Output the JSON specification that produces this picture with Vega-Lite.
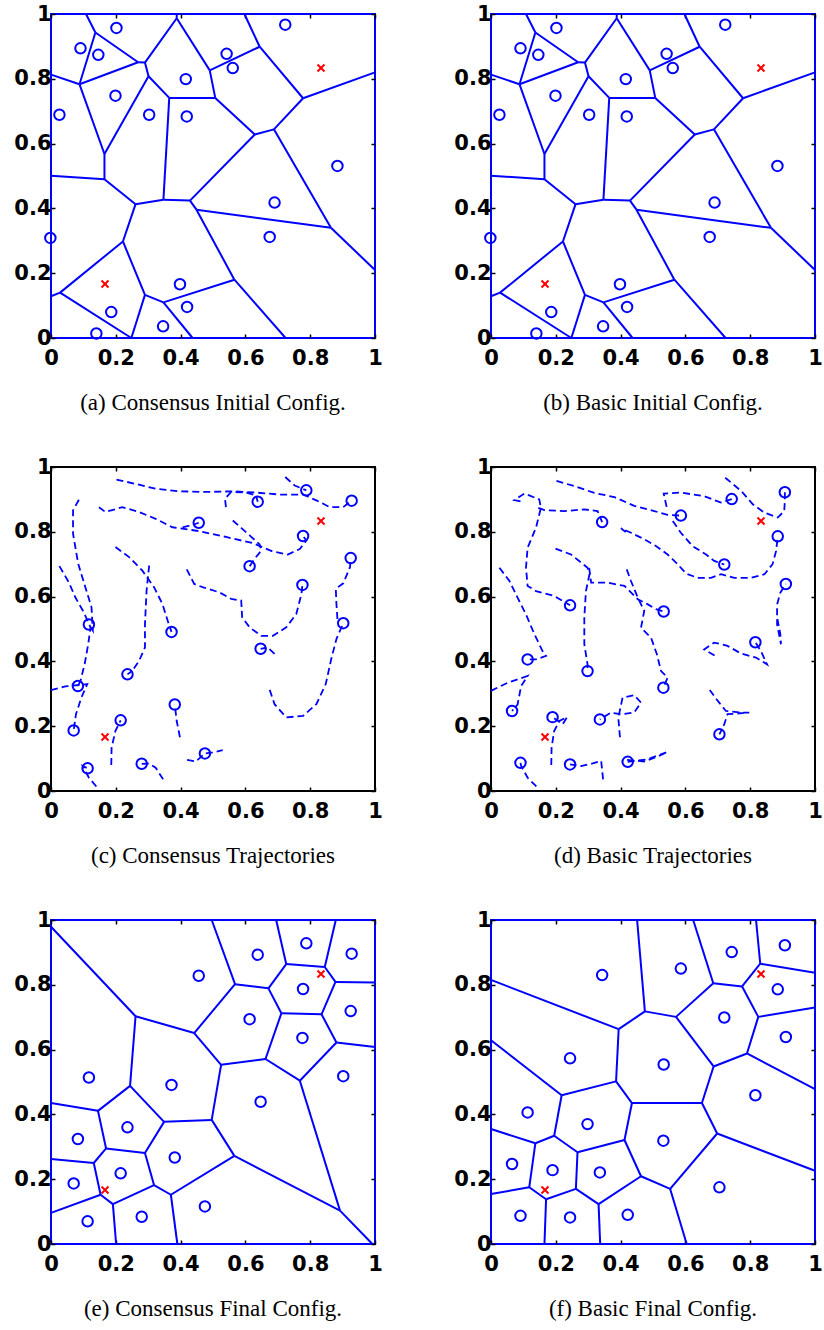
{
"$schema": "https://vega.github.io/schema/vega-lite/v6.json",
"background": "white",
"padding": {"left": 12, "top": 2, "right": 0, "bottom": 0},
"config": {
 "view": {"stroke": "black", "strokeWidth": 2},
 "axis": {"domain": false, "grid": false, "ticks": true, "tickSize": -4, "tickColor": "black", "tickWidth": 1.5, "labelFont": "DejaVu Sans", "labelFontWeight": "bold", "labelFontSize": 21, "labelColor": "black", "labelFlush": false, "labelOverlap": false, "labelBound": false},
 "axisX": {"labelPadding": 13},
 "axisY": {"labelPadding": 4},
 "title": {"font": "Liberation Serif", "fontSize": 23, "fontWeight": "normal", "color": "black", "orient": "bottom", "anchor": "middle", "offset": 24}
},
"datasets": {
 "targets": [{"x":0.1667,"y":0.1667},{"x":0.8333,"y":0.8333}],
 "ptsA": [{"x":0.202,"y":0.957},{"x":0.091,"y":0.894},{"x":0.146,"y":0.874},{"x":0.416,"y":0.799},{"x":0.199,"y":0.748},{"x":0.026,"y":0.689},{"x":0.303,"y":0.689},{"x":0.419,"y":0.684},{"x":0.542,"y":0.877},{"x":0.561,"y":0.833},{"x":0.723,"y":0.967},{"x":0.884,"y":0.531},{"x":0.690,"y":0.418},{"x":0.675,"y":0.312},{"x":-0.002,"y":0.309},{"x":0.398,"y":0.166},{"x":0.420,"y":0.096},{"x":0.186,"y":0.080},{"x":0.346,"y":0.036},{"x":0.140,"y":0.014}],
 "ptsE": [{"x":0.788,"y":0.928},{"x":0.928,"y":0.896},{"x":0.638,"y":0.893},{"x":0.456,"y":0.828},{"x":0.778,"y":0.787},{"x":0.613,"y":0.694},{"x":0.925,"y":0.719},{"x":0.776,"y":0.636},{"x":0.117,"y":0.514},{"x":0.372,"y":0.491},{"x":0.902,"y":0.518},{"x":0.647,"y":0.439},{"x":0.236,"y":0.360},{"x":0.083,"y":0.324},{"x":0.382,"y":0.267},{"x":0.215,"y":0.218},{"x":0.070,"y":0.187},{"x":0.475,"y":0.116},{"x":0.113,"y":0.070},{"x":0.280,"y":0.084}],
 "ptsF": [{"x":0.907,"y":0.922},{"x":0.743,"y":0.901},{"x":0.586,"y":0.850},{"x":0.343,"y":0.830},{"x":0.885,"y":0.786},{"x":0.720,"y":0.699},{"x":0.910,"y":0.639},{"x":0.533,"y":0.554},{"x":0.244,"y":0.573},{"x":0.816,"y":0.459},{"x":0.113,"y":0.406},{"x":0.298,"y":0.370},{"x":0.532,"y":0.319},{"x":0.065,"y":0.247},{"x":0.190,"y":0.228},{"x":0.336,"y":0.221},{"x":0.705,"y":0.175},{"x":0.091,"y":0.087},{"x":0.244,"y":0.082},{"x":0.422,"y":0.090}],
 "vorA": [
  {"x1":0.108,"y1":1,"x2":0.137,"y2":0.943},{"x1":0.137,"y1":0.943,"x2":0.088,"y2":0.783},{"x1":0.137,"y1":0.943,"x2":0.269,"y2":0.851},{"x1":0.269,"y1":0.851,"x2":0.290,"y2":0.850},
  {"x1":0.290,"y1":0.850,"x2":0.388,"y2":0.987},{"x1":0.388,"y1":0.987,"x2":0.388,"y2":1},{"x1":0.388,"y1":0.987,"x2":0.490,"y2":0.826},{"x1":0.490,"y1":0.826,"x2":0.644,"y2":0.899},
  {"x1":0.644,"y1":0.899,"x2":0.597,"y2":1},{"x1":0.644,"y1":0.899,"x2":0.778,"y2":0.740},{"x1":0.778,"y1":0.740,"x2":1,"y2":0.820},{"x1":0.778,"y1":0.740,"x2":0.688,"y2":0.644},
  {"x1":0.688,"y1":0.644,"x2":0.629,"y2":0.628},{"x1":0.688,"y1":0.644,"x2":0.864,"y2":0.340},{"x1":0.864,"y1":0.340,"x2":1,"y2":0.210},{"x1":0.864,"y1":0.340,"x2":0.449,"y2":0.396},
  {"x1":0.629,"y1":0.628,"x2":0.507,"y2":0.741},{"x1":0.507,"y1":0.741,"x2":0.490,"y2":0.826},{"x1":0.507,"y1":0.741,"x2":0.365,"y2":0.741},{"x1":0.365,"y1":0.741,"x2":0.301,"y2":0.808},
  {"x1":0.301,"y1":0.808,"x2":0.290,"y2":0.850},{"x1":0.301,"y1":0.808,"x2":0.165,"y2":0.568},{"x1":0.165,"y1":0.568,"x2":0.088,"y2":0.783},{"x1":0.088,"y1":0.783,"x2":0,"y2":0.813},
  {"x1":0.269,"y1":0.851,"x2":0.088,"y2":0.783},{"x1":0.165,"y1":0.568,"x2":0.165,"y2":0.490},{"x1":0.165,"y1":0.490,"x2":0,"y2":0.501},{"x1":0.165,"y1":0.490,"x2":0.261,"y2":0.413},
  {"x1":0.261,"y1":0.413,"x2":0.347,"y2":0.427},{"x1":0.347,"y1":0.427,"x2":0.365,"y2":0.741},{"x1":0.347,"y1":0.427,"x2":0.429,"y2":0.424},{"x1":0.429,"y1":0.424,"x2":0.629,"y2":0.628},
  {"x1":0.429,"y1":0.424,"x2":0.449,"y2":0.396},{"x1":0.449,"y1":0.396,"x2":0.566,"y2":0.180},{"x1":0.566,"y1":0.180,"x2":0.724,"y2":0},{"x1":0.566,"y1":0.180,"x2":0.347,"y2":0.110},
  {"x1":0.347,"y1":0.110,"x2":0.437,"y2":0},{"x1":0.347,"y1":0.110,"x2":0.290,"y2":0.133},{"x1":0.290,"y1":0.133,"x2":0.248,"y2":0},{"x1":0.290,"y1":0.133,"x2":0.222,"y2":0.298},
  {"x1":0.222,"y1":0.298,"x2":0.261,"y2":0.413},{"x1":0.222,"y1":0.298,"x2":0.028,"y2":0.140},{"x1":0.028,"y1":0.140,"x2":0,"y2":0.129},{"x1":0.028,"y1":0.140,"x2":0.248,"y2":0}
 ],
 "vorE": [
  {"x1":0,"y1":0.979,"x2":0.261,"y2":0.703},{"x1":0.261,"y1":0.703,"x2":0.442,"y2":0.651},{"x1":0.442,"y1":0.651,"x2":0.568,"y2":0.802},{"x1":0.568,"y1":0.802,"x2":0.496,"y2":1},
  {"x1":0.568,"y1":0.802,"x2":0.671,"y2":0.789},{"x1":0.671,"y1":0.789,"x2":0.726,"y2":0.864},{"x1":0.726,"y1":0.864,"x2":0.695,"y2":1},{"x1":0.726,"y1":0.864,"x2":0.845,"y2":0.855},
  {"x1":0.845,"y1":0.855,"x2":0.879,"y2":1},{"x1":0.845,"y1":0.855,"x2":0.878,"y2":0.809},{"x1":0.878,"y1":0.809,"x2":1,"y2":0.807},{"x1":0.878,"y1":0.809,"x2":0.835,"y2":0.709},
  {"x1":0.835,"y1":0.709,"x2":0.711,"y2":0.712},{"x1":0.711,"y1":0.712,"x2":0.671,"y2":0.789},{"x1":0.835,"y1":0.709,"x2":0.881,"y2":0.622},{"x1":0.881,"y1":0.622,"x2":1,"y2":0.608},
  {"x1":0.881,"y1":0.622,"x2":0.768,"y2":0.504},{"x1":0.768,"y1":0.504,"x2":0.662,"y2":0.571},{"x1":0.662,"y1":0.571,"x2":0.711,"y2":0.712},{"x1":0.662,"y1":0.571,"x2":0.525,"y2":0.553},
  {"x1":0.525,"y1":0.553,"x2":0.442,"y2":0.651},{"x1":0.525,"y1":0.553,"x2":0.496,"y2":0.383},{"x1":0.496,"y1":0.383,"x2":0.349,"y2":0.377},{"x1":0.349,"y1":0.377,"x2":0.244,"y2":0.488},
  {"x1":0.244,"y1":0.488,"x2":0.261,"y2":0.703},{"x1":0.244,"y1":0.488,"x2":0.145,"y2":0.411},{"x1":0.145,"y1":0.411,"x2":0,"y2":0.435},{"x1":0.145,"y1":0.411,"x2":0.170,"y2":0.295},
  {"x1":0.170,"y1":0.295,"x2":0.290,"y2":0.281},{"x1":0.290,"y1":0.281,"x2":0.349,"y2":0.377},{"x1":0.170,"y1":0.295,"x2":0.132,"y2":0.250},{"x1":0.132,"y1":0.250,"x2":0,"y2":0.262},
  {"x1":0.132,"y1":0.250,"x2":0.153,"y2":0.152},{"x1":0.153,"y1":0.152,"x2":0,"y2":0.096},{"x1":0.153,"y1":0.152,"x2":0.191,"y2":0.123},{"x1":0.191,"y1":0.123,"x2":0.201,"y2":0},
  {"x1":0.191,"y1":0.123,"x2":0.318,"y2":0.182},{"x1":0.318,"y1":0.182,"x2":0.290,"y2":0.281},{"x1":0.318,"y1":0.182,"x2":0.370,"y2":0.152},{"x1":0.370,"y1":0.152,"x2":0.390,"y2":0},
  {"x1":0.370,"y1":0.152,"x2":0.566,"y2":0.272},{"x1":0.566,"y1":0.272,"x2":0.496,"y2":0.383},{"x1":0.566,"y1":0.272,"x2":0.892,"y2":0.103},{"x1":0.892,"y1":0.103,"x2":0.768,"y2":0.504},
  {"x1":0.892,"y1":0.103,"x2":0.992,"y2":0}
 ],
 "vorF": [
  {"x1":0,"y1":0.815,"x2":0.394,"y2":0.663},{"x1":0.394,"y1":0.663,"x2":0.475,"y2":0.718},{"x1":0.475,"y1":0.718,"x2":0.451,"y2":1},{"x1":0.475,"y1":0.718,"x2":0.571,"y2":0.701},
  {"x1":0.571,"y1":0.701,"x2":0.686,"y2":0.805},{"x1":0.686,"y1":0.805,"x2":0.624,"y2":1},{"x1":0.686,"y1":0.805,"x2":0.775,"y2":0.795},{"x1":0.775,"y1":0.795,"x2":0.831,"y2":0.865},
  {"x1":0.831,"y1":0.865,"x2":0.818,"y2":1},{"x1":0.831,"y1":0.865,"x2":1,"y2":0.837},{"x1":0.775,"y1":0.795,"x2":0.825,"y2":0.701},{"x1":0.825,"y1":0.701,"x2":1,"y2":0.730},
  {"x1":0.825,"y1":0.701,"x2":0.790,"y2":0.588},{"x1":0.790,"y1":0.588,"x2":1,"y2":0.478},{"x1":0.790,"y1":0.588,"x2":0.687,"y2":0.548},{"x1":0.687,"y1":0.548,"x2":0.571,"y2":0.701},
  {"x1":0.687,"y1":0.548,"x2":0.651,"y2":0.435},{"x1":0.651,"y1":0.435,"x2":0.435,"y2":0.435},{"x1":0.435,"y1":0.435,"x2":0.386,"y2":0.502},{"x1":0.386,"y1":0.502,"x2":0.394,"y2":0.663},
  {"x1":0.386,"y1":0.502,"x2":0.218,"y2":0.459},{"x1":0.218,"y1":0.459,"x2":0,"y2":0.629},{"x1":0.218,"y1":0.459,"x2":0.195,"y2":0.334},{"x1":0.195,"y1":0.334,"x2":0.137,"y2":0.311},
  {"x1":0.137,"y1":0.311,"x2":0,"y2":0.355},{"x1":0.137,"y1":0.311,"x2":0.118,"y2":0.175},{"x1":0.118,"y1":0.175,"x2":0,"y2":0.154},{"x1":0.118,"y1":0.175,"x2":0.170,"y2":0.138},
  {"x1":0.170,"y1":0.138,"x2":0.165,"y2":0},{"x1":0.170,"y1":0.138,"x2":0.262,"y2":0.170},{"x1":0.262,"y1":0.170,"x2":0.267,"y2":0.283},{"x1":0.267,"y1":0.283,"x2":0.195,"y2":0.334},
  {"x1":0.267,"y1":0.283,"x2":0.412,"y2":0.321},{"x1":0.412,"y1":0.321,"x2":0.435,"y2":0.435},{"x1":0.412,"y1":0.321,"x2":0.463,"y2":0.209},{"x1":0.463,"y1":0.209,"x2":0.332,"y2":0.123},
  {"x1":0.332,"y1":0.123,"x2":0.262,"y2":0.170},{"x1":0.332,"y1":0.123,"x2":0.337,"y2":0},{"x1":0.463,"y1":0.209,"x2":0.553,"y2":0.170},{"x1":0.553,"y1":0.170,"x2":0.604,"y2":0},
  {"x1":0.553,"y1":0.170,"x2":0.698,"y2":0.341},{"x1":0.698,"y1":0.341,"x2":0.651,"y2":0.435},{"x1":0.698,"y1":0.341,"x2":1,"y2":0.226}
 ],
 "trajC": [
  {"a":1,"o":1,"x":0.202,"y":0.961},{"a":1,"o":2,"x":0.261,"y":0.948},{"a":1,"o":3,"x":0.323,"y":0.933},{"a":1,"o":4,"x":0.396,"y":0.925},{"a":1,"o":5,"x":0.478,"y":0.923},{"a":1,"o":6,"x":0.561,"y":0.925},{"a":1,"o":7,"x":0.633,"y":0.921},{"a":1,"o":8,"x":0.706,"y":0.915},{"a":1,"o":9,"x":0.778,"y":0.915},{"a":1,"o":10,"x":0.819,"y":0.897},{"a":1,"o":11,"x":0.861,"y":0.876},{"a":1,"o":12,"x":0.902,"y":0.876},{"a":1,"o":13,"x":0.928,"y":0.897},
  {"a":11,"o":1,"x":0.723,"y":0.969},{"a":11,"o":2,"x":0.752,"y":0.943},{"a":11,"o":3,"x":0.788,"y":0.928},
  {"a":9,"o":1,"x":0.540,"y":0.876},{"a":9,"o":2,"x":0.537,"y":0.902},{"a":9,"o":3,"x":0.556,"y":0.923},{"a":9,"o":4,"x":0.602,"y":0.921},{"a":9,"o":5,"x":0.633,"y":0.912},{"a":9,"o":6,"x":0.638,"y":0.893},
  {"a":10,"o":1,"x":0.561,"y":0.835},{"a":10,"o":2,"x":0.587,"y":0.812},{"a":10,"o":3,"x":0.613,"y":0.789},{"a":10,"o":4,"x":0.644,"y":0.761},{"a":10,"o":5,"x":0.649,"y":0.742},{"a":10,"o":6,"x":0.628,"y":0.716},{"a":10,"o":7,"x":0.613,"y":0.694},
  {"a":3,"o":1,"x":0.148,"y":0.876},{"a":3,"o":2,"x":0.168,"y":0.861},{"a":3,"o":3,"x":0.220,"y":0.876},{"a":3,"o":4,"x":0.272,"y":0.861},{"a":3,"o":5,"x":0.323,"y":0.840},{"a":3,"o":6,"x":0.375,"y":0.814},{"a":3,"o":7,"x":0.458,"y":0.802},{"a":3,"o":8,"x":0.540,"y":0.784},{"a":3,"o":9,"x":0.623,"y":0.765},{"a":3,"o":10,"x":0.685,"y":0.739},{"a":3,"o":11,"x":0.731,"y":0.730},{"a":3,"o":12,"x":0.768,"y":0.747},{"a":3,"o":13,"x":0.788,"y":0.773},{"a":3,"o":14,"x":0.778,"y":0.787},
  {"a":4,"o":1,"x":0.406,"y":0.814},{"a":4,"o":2,"x":0.437,"y":0.821},{"a":4,"o":3,"x":0.456,"y":0.828},
  {"a":2,"o":1,"x":0.086,"y":0.899},{"a":2,"o":2,"x":0.068,"y":0.866},{"a":2,"o":3,"x":0.068,"y":0.794},{"a":2,"o":4,"x":0.084,"y":0.701},{"a":2,"o":5,"x":0.106,"y":0.629},{"a":2,"o":6,"x":0.125,"y":0.567},{"a":2,"o":7,"x":0.129,"y":0.495},{"a":2,"o":8,"x":0.117,"y":0.514},
  {"a":6,"o":1,"x":0.026,"y":0.694},{"a":6,"o":2,"x":0.055,"y":0.644},{"a":6,"o":3,"x":0.075,"y":0.598},{"a":6,"o":4,"x":0.101,"y":0.552},{"a":6,"o":5,"x":0.122,"y":0.505},{"a":6,"o":6,"x":0.115,"y":0.454},{"a":6,"o":7,"x":0.104,"y":0.392},{"a":6,"o":8,"x":0.091,"y":0.340},{"a":6,"o":9,"x":0.083,"y":0.324},
  {"a":15,"o":1,"x":0,"y":0.311},{"a":15,"o":2,"x":0.044,"y":0.323},{"a":15,"o":3,"x":0.096,"y":0.328},{"a":15,"o":4,"x":0.112,"y":0.330},{"a":15,"o":5,"x":0.094,"y":0.289},{"a":15,"o":6,"x":0.077,"y":0.237},{"a":15,"o":7,"x":0.070,"y":0.187},
  {"a":5,"o":1,"x":0.199,"y":0.753},{"a":5,"o":2,"x":0.241,"y":0.722},{"a":5,"o":3,"x":0.282,"y":0.680},{"a":5,"o":4,"x":0.318,"y":0.629},{"a":5,"o":5,"x":0.344,"y":0.577},{"a":5,"o":6,"x":0.360,"y":0.526},{"a":5,"o":7,"x":0.372,"y":0.491},
  {"a":7,"o":1,"x":0.303,"y":0.696},{"a":7,"o":2,"x":0.295,"y":0.619},{"a":7,"o":3,"x":0.290,"y":0.515},{"a":7,"o":4,"x":0.290,"y":0.443},{"a":7,"o":5,"x":0.272,"y":0.402},{"a":7,"o":6,"x":0.251,"y":0.371},{"a":7,"o":7,"x":0.236,"y":0.360},
  {"a":8,"o":1,"x":0.419,"y":0.684},{"a":8,"o":2,"x":0.442,"y":0.639},{"a":8,"o":3,"x":0.468,"y":0.629},{"a":8,"o":4,"x":0.520,"y":0.613},{"a":8,"o":5,"x":0.556,"y":0.593},{"a":8,"o":6,"x":0.587,"y":0.588},{"a":8,"o":7,"x":0.590,"y":0.536},{"a":8,"o":8,"x":0.613,"y":0.505},{"a":8,"o":9,"x":0.649,"y":0.479},{"a":8,"o":10,"x":0.685,"y":0.479},{"a":8,"o":11,"x":0.726,"y":0.505},{"a":8,"o":12,"x":0.757,"y":0.546},{"a":8,"o":13,"x":0.773,"y":0.608},{"a":8,"o":14,"x":0.776,"y":0.636},
  {"a":12,"o":1,"x":0.884,"y":0.531},{"a":12,"o":2,"x":0.881,"y":0.577},{"a":12,"o":3,"x":0.879,"y":0.624},{"a":12,"o":4,"x":0.902,"y":0.641},{"a":12,"o":5,"x":0.923,"y":0.691},{"a":12,"o":6,"x":0.925,"y":0.719},
  {"a":14,"o":1,"x":0.675,"y":0.312},{"a":14,"o":2,"x":0.690,"y":0.268},{"a":14,"o":3,"x":0.726,"y":0.227},{"a":14,"o":4,"x":0.778,"y":0.232},{"a":14,"o":5,"x":0.819,"y":0.268},{"a":14,"o":6,"x":0.848,"y":0.330},{"a":14,"o":7,"x":0.866,"y":0.412},{"a":14,"o":8,"x":0.881,"y":0.469},{"a":14,"o":9,"x":0.902,"y":0.518},
  {"a":13,"o":1,"x":0.690,"y":0.423},{"a":13,"o":2,"x":0.669,"y":0.443},{"a":13,"o":3,"x":0.647,"y":0.439},
  {"a":16,"o":1,"x":0.398,"y":0.166},{"a":16,"o":2,"x":0.388,"y":0.216},{"a":16,"o":3,"x":0.382,"y":0.267},
  {"a":17,"o":1,"x":0.420,"y":0.096},{"a":17,"o":2,"x":0.447,"y":0.091},{"a":17,"o":3,"x":0.475,"y":0.116},{"a":17,"o":4,"x":0.499,"y":0.119},{"a":17,"o":5,"x":0.530,"y":0.126},
  {"a":18,"o":1,"x":0.186,"y":0.080},{"a":18,"o":2,"x":0.187,"y":0.134},{"a":18,"o":3,"x":0.199,"y":0.186},{"a":18,"o":4,"x":0.215,"y":0.218},
  {"a":19,"o":1,"x":0.346,"y":0.036},{"a":19,"o":2,"x":0.323,"y":0.072},{"a":19,"o":3,"x":0.303,"y":0.085},{"a":19,"o":4,"x":0.280,"y":0.084},
  {"a":20,"o":1,"x":0.140,"y":0.014},{"a":20,"o":2,"x":0.117,"y":0.041},{"a":20,"o":3,"x":0.098,"y":0.077},{"a":20,"o":4,"x":0.113,"y":0.070}
 ],
 "trajD": [
  {"a":1,"o":1,"x":0.202,"y":0.957},{"a":1,"o":2,"x":0.257,"y":0.941},{"a":1,"o":3,"x":0.319,"y":0.920},{"a":1,"o":4,"x":0.381,"y":0.907},{"a":1,"o":5,"x":0.442,"y":0.880},{"a":1,"o":6,"x":0.504,"y":0.864},{"a":1,"o":7,"x":0.545,"y":0.852},{"a":1,"o":8,"x":0.586,"y":0.850},
  {"a":11,"o":1,"x":0.723,"y":0.967},{"a":11,"o":2,"x":0.772,"y":0.926},{"a":11,"o":3,"x":0.808,"y":0.885},{"a":11,"o":4,"x":0.844,"y":0.859},{"a":11,"o":5,"x":0.885,"y":0.844},{"a":11,"o":6,"x":0.905,"y":0.864},{"a":11,"o":7,"x":0.907,"y":0.895},{"a":11,"o":8,"x":0.907,"y":0.922},
  {"a":9,"o":1,"x":0.542,"y":0.877},{"a":9,"o":2,"x":0.533,"y":0.918},{"a":9,"o":3,"x":0.586,"y":0.921},{"a":9,"o":4,"x":0.658,"y":0.910},{"a":9,"o":5,"x":0.710,"y":0.890},{"a":9,"o":6,"x":0.743,"y":0.901},
  {"a":10,"o":1,"x":0.561,"y":0.833},{"a":10,"o":2,"x":0.586,"y":0.797},{"a":10,"o":3,"x":0.622,"y":0.756},{"a":10,"o":4,"x":0.664,"y":0.730},{"a":10,"o":5,"x":0.689,"y":0.710},{"a":10,"o":6,"x":0.720,"y":0.699},
  {"a":4,"o":1,"x":0.416,"y":0.799},{"a":4,"o":2,"x":0.401,"y":0.811},{"a":4,"o":3,"x":0.432,"y":0.797},{"a":4,"o":4,"x":0.473,"y":0.777},{"a":4,"o":5,"x":0.509,"y":0.756},{"a":4,"o":6,"x":0.545,"y":0.730},{"a":4,"o":7,"x":0.576,"y":0.700},{"a":4,"o":8,"x":0.602,"y":0.671},{"a":4,"o":9,"x":0.638,"y":0.658},{"a":4,"o":10,"x":0.679,"y":0.658},{"a":4,"o":11,"x":0.710,"y":0.669},{"a":4,"o":12,"x":0.751,"y":0.658},{"a":4,"o":13,"x":0.802,"y":0.658},{"a":4,"o":14,"x":0.844,"y":0.669},{"a":4,"o":15,"x":0.869,"y":0.700},{"a":4,"o":16,"x":0.880,"y":0.741},{"a":4,"o":17,"x":0.885,"y":0.786},
  {"a":2,"o":1,"x":0.091,"y":0.894},{"a":2,"o":2,"x":0.072,"y":0.898},{"a":2,"o":3,"x":0.103,"y":0.918},{"a":2,"o":4,"x":0.149,"y":0.900},{"a":2,"o":5,"x":0.154,"y":0.874},{"a":2,"o":6,"x":0.139,"y":0.813},{"a":2,"o":7,"x":0.113,"y":0.751},{"a":2,"o":8,"x":0.108,"y":0.689},{"a":2,"o":9,"x":0.113,"y":0.633},{"a":2,"o":10,"x":0.139,"y":0.617},{"a":2,"o":11,"x":0.195,"y":0.602},{"a":2,"o":12,"x":0.244,"y":0.573},
  {"a":3,"o":1,"x":0.146,"y":0.874},{"a":3,"o":2,"x":0.165,"y":0.867},{"a":3,"o":3,"x":0.226,"y":0.864},{"a":3,"o":4,"x":0.288,"y":0.869},{"a":3,"o":5,"x":0.329,"y":0.864},{"a":3,"o":6,"x":0.343,"y":0.830},
  {"a":6,"o":1,"x":0.026,"y":0.689},{"a":6,"o":2,"x":0.057,"y":0.648},{"a":6,"o":3,"x":0.082,"y":0.597},{"a":6,"o":4,"x":0.108,"y":0.545},{"a":6,"o":5,"x":0.134,"y":0.484},{"a":6,"o":6,"x":0.159,"y":0.432},{"a":6,"o":7,"x":0.170,"y":0.417},{"a":6,"o":8,"x":0.139,"y":0.406},{"a":6,"o":9,"x":0.113,"y":0.406},
  {"a":15,"o":1,"x":0,"y":0.309},{"a":15,"o":2,"x":0.051,"y":0.334},{"a":15,"o":3,"x":0.113,"y":0.355},{"a":15,"o":4,"x":0.093,"y":0.324},{"a":15,"o":5,"x":0.082,"y":0.267},{"a":15,"o":6,"x":0.065,"y":0.247},
  {"a":5,"o":1,"x":0.199,"y":0.748},{"a":5,"o":2,"x":0.247,"y":0.730},{"a":5,"o":3,"x":0.298,"y":0.689},{"a":5,"o":4,"x":0.304,"y":0.669},{"a":5,"o":5,"x":0.293,"y":0.617},{"a":5,"o":6,"x":0.288,"y":0.535},{"a":5,"o":7,"x":0.288,"y":0.453},{"a":5,"o":8,"x":0.298,"y":0.391},{"a":5,"o":9,"x":0.298,"y":0.370},
  {"a":7,"o":1,"x":0.303,"y":0.689},{"a":7,"o":2,"x":0.309,"y":0.643},{"a":7,"o":3,"x":0.360,"y":0.643},{"a":7,"o":4,"x":0.412,"y":0.633},{"a":7,"o":5,"x":0.453,"y":0.592},{"a":7,"o":6,"x":0.484,"y":0.576},{"a":7,"o":7,"x":0.509,"y":0.561},{"a":7,"o":8,"x":0.533,"y":0.554},
  {"a":8,"o":1,"x":0.419,"y":0.684},{"a":8,"o":2,"x":0.432,"y":0.648},{"a":8,"o":3,"x":0.453,"y":0.597},{"a":8,"o":4,"x":0.473,"y":0.556},{"a":8,"o":5,"x":0.463,"y":0.504},{"a":8,"o":6,"x":0.494,"y":0.473},{"a":8,"o":7,"x":0.512,"y":0.422},{"a":8,"o":8,"x":0.525,"y":0.370},{"a":8,"o":9,"x":0.545,"y":0.350},{"a":8,"o":10,"x":0.532,"y":0.319},
  {"a":12,"o":1,"x":0.884,"y":0.531},{"a":12,"o":2,"x":0.893,"y":0.484},{"a":12,"o":3,"x":0.895,"y":0.453},{"a":12,"o":4,"x":0.883,"y":0.514},{"a":12,"o":5,"x":0.883,"y":0.576},{"a":12,"o":6,"x":0.893,"y":0.612},{"a":12,"o":7,"x":0.910,"y":0.639},
  {"a":13,"o":1,"x":0.690,"y":0.418},{"a":13,"o":2,"x":0.658,"y":0.437},{"a":13,"o":3,"x":0.689,"y":0.458},{"a":13,"o":4,"x":0.730,"y":0.448},{"a":13,"o":5,"x":0.772,"y":0.424},{"a":13,"o":6,"x":0.818,"y":0.412},{"a":13,"o":7,"x":0.852,"y":0.391},{"a":13,"o":8,"x":0.833,"y":0.432},{"a":13,"o":9,"x":0.816,"y":0.459},
  {"a":14,"o":1,"x":0.675,"y":0.312},{"a":14,"o":2,"x":0.700,"y":0.278},{"a":14,"o":3,"x":0.725,"y":0.247},{"a":14,"o":4,"x":0.772,"y":0.242},{"a":14,"o":5,"x":0.797,"y":0.242},{"a":14,"o":6,"x":0.730,"y":0.237},{"a":14,"o":7,"x":0.720,"y":0.206},{"a":14,"o":8,"x":0.705,"y":0.175},
  {"a":16,"o":1,"x":0.398,"y":0.166},{"a":16,"o":2,"x":0.393,"y":0.226},{"a":16,"o":3,"x":0.406,"y":0.288},{"a":16,"o":4,"x":0.442,"y":0.296},{"a":16,"o":5,"x":0.463,"y":0.273},{"a":16,"o":6,"x":0.442,"y":0.242},{"a":16,"o":7,"x":0.401,"y":0.237},{"a":16,"o":8,"x":0.370,"y":0.242},{"a":16,"o":9,"x":0.336,"y":0.221},
  {"a":17,"o":1,"x":0.420,"y":0.096},{"a":17,"o":2,"x":0.473,"y":0.091},{"a":17,"o":3,"x":0.514,"y":0.106},{"a":17,"o":4,"x":0.545,"y":0.121},{"a":17,"o":5,"x":0.484,"y":0.098},{"a":17,"o":6,"x":0.422,"y":0.090},
  {"a":18,"o":1,"x":0.186,"y":0.080},{"a":18,"o":2,"x":0.187,"y":0.134},{"a":18,"o":3,"x":0.195,"y":0.185},{"a":18,"o":4,"x":0.211,"y":0.216},{"a":18,"o":5,"x":0.235,"y":0.228},{"a":18,"o":6,"x":0.221,"y":0.206},{"a":18,"o":7,"x":0.190,"y":0.228},
  {"a":19,"o":1,"x":0.346,"y":0.036},{"a":19,"o":2,"x":0.340,"y":0.093},{"a":19,"o":3,"x":0.309,"y":0.084},{"a":19,"o":4,"x":0.278,"y":0.077},{"a":19,"o":5,"x":0.244,"y":0.082},
  {"a":20,"o":1,"x":0.140,"y":0.014},{"a":20,"o":2,"x":0.113,"y":0.041},{"a":20,"o":3,"x":0.093,"y":0.077},{"a":20,"o":4,"x":0.091,"y":0.087}
 ]
},
"columns": 2,
"spacing": {"row": 129, "column": 116},
"bounds": "flush",
"concat": [
  {"width": 324, "height": 324, "title": {"text": "(a) Consensus Initial Config."}, "view": {"stroke": "#0000ff", "strokeWidth": 2},
   "layer": [
    {"data": {"name": "vorA"}, "mark": {"type": "rule", "color": "#0000ff", "strokeWidth": 2},
     "encoding": {"x": {"field": "x1", "type": "quantitative", "scale": {"domain": [0, 1]}, "axis": {"orient": "bottom", "values": [0, 0.2, 0.4, 0.6, 0.8, 1], "format": "~g", "title": null}},
                  "y": {"field": "y1", "type": "quantitative", "scale": {"domain": [0, 1]}, "axis": {"orient": "left", "values": [0, 0.2, 0.4, 0.6, 0.8, 1], "format": "~g", "title": null}},
                  "x2": {"field": "x2"}, "y2": {"field": "y2"}}},
    {"data": {"name": "ptsA"}, "mark": {"type": "point", "shape": "circle", "filled": false, "color": "#0000ff", "size": 110, "strokeWidth": 2, "opacity": 1},
     "encoding": {"x": {"field": "x", "type": "quantitative", "scale": {"domain": [0, 1]}, "axis": {"orient": "top", "values": [0, 0.2, 0.4, 0.6, 0.8, 1], "labels": false, "title": null}},
                  "y": {"field": "y", "type": "quantitative", "scale": {"domain": [0, 1]}, "axis": {"orient": "right", "values": [0, 0.2, 0.4, 0.6, 0.8, 1], "labels": false, "title": null}}}},
    {"data": {"name": "targets"}, "mark": {"type": "point", "shape": "M-1,-1L1,1M1,-1L-1,1", "filled": false, "color": "#ff0000", "size": 49, "strokeWidth": 2, "opacity": 1},
     "encoding": {"x": {"field": "x", "type": "quantitative", "axis": null}, "y": {"field": "y", "type": "quantitative", "axis": null}}}
   ],
   "resolve": {"axis": {"x": "independent", "y": "independent"}}},
  {"width": 324, "height": 324, "title": {"text": "(b) Basic Initial Config."}, "view": {"stroke": "#0000ff", "strokeWidth": 2},
   "layer": [
    {"data": {"name": "vorA"}, "mark": {"type": "rule", "color": "#0000ff", "strokeWidth": 2},
     "encoding": {"x": {"field": "x1", "type": "quantitative", "scale": {"domain": [0, 1]}, "axis": {"orient": "bottom", "values": [0, 0.2, 0.4, 0.6, 0.8, 1], "format": "~g", "title": null}},
                  "y": {"field": "y1", "type": "quantitative", "scale": {"domain": [0, 1]}, "axis": {"orient": "left", "values": [0, 0.2, 0.4, 0.6, 0.8, 1], "format": "~g", "title": null}},
                  "x2": {"field": "x2"}, "y2": {"field": "y2"}}},
    {"data": {"name": "ptsA"}, "mark": {"type": "point", "shape": "circle", "filled": false, "color": "#0000ff", "size": 110, "strokeWidth": 2, "opacity": 1},
     "encoding": {"x": {"field": "x", "type": "quantitative", "scale": {"domain": [0, 1]}, "axis": {"orient": "top", "values": [0, 0.2, 0.4, 0.6, 0.8, 1], "labels": false, "title": null}},
                  "y": {"field": "y", "type": "quantitative", "scale": {"domain": [0, 1]}, "axis": {"orient": "right", "values": [0, 0.2, 0.4, 0.6, 0.8, 1], "labels": false, "title": null}}}},
    {"data": {"name": "targets"}, "mark": {"type": "point", "shape": "M-1,-1L1,1M1,-1L-1,1", "filled": false, "color": "#ff0000", "size": 49, "strokeWidth": 2, "opacity": 1},
     "encoding": {"x": {"field": "x", "type": "quantitative", "axis": null}, "y": {"field": "y", "type": "quantitative", "axis": null}}}
   ],
   "resolve": {"axis": {"x": "independent", "y": "independent"}}},
  {"width": 324, "height": 324, "title": {"text": "(c) Consensus Trajectories"},
   "layer": [
    {"data": {"name": "trajC"}, "mark": {"type": "line", "color": "#0000ff", "strokeWidth": 1.8, "strokeDash": [7, 4]},
     "encoding": {"x": {"field": "x", "type": "quantitative", "scale": {"domain": [0, 1]}, "axis": {"orient": "bottom", "values": [0, 0.2, 0.4, 0.6, 0.8, 1], "format": "~g", "title": null}},
                  "y": {"field": "y", "type": "quantitative", "scale": {"domain": [0, 1]}, "axis": {"orient": "left", "values": [0, 0.2, 0.4, 0.6, 0.8, 1], "format": "~g", "title": null}},
                  "detail": {"field": "a"}, "order": {"field": "o"}}},
    {"data": {"name": "ptsE"}, "mark": {"type": "point", "shape": "circle", "filled": false, "color": "#0000ff", "size": 110, "strokeWidth": 2, "opacity": 1},
     "encoding": {"x": {"field": "x", "type": "quantitative", "scale": {"domain": [0, 1]}, "axis": {"orient": "top", "values": [0, 0.2, 0.4, 0.6, 0.8, 1], "labels": false, "title": null}},
                  "y": {"field": "y", "type": "quantitative", "scale": {"domain": [0, 1]}, "axis": {"orient": "right", "values": [0, 0.2, 0.4, 0.6, 0.8, 1], "labels": false, "title": null}}}},
    {"data": {"name": "targets"}, "mark": {"type": "point", "shape": "M-1,-1L1,1M1,-1L-1,1", "filled": false, "color": "#ff0000", "size": 49, "strokeWidth": 2, "opacity": 1},
     "encoding": {"x": {"field": "x", "type": "quantitative", "axis": null}, "y": {"field": "y", "type": "quantitative", "axis": null}}}
   ],
   "resolve": {"axis": {"x": "independent", "y": "independent"}}},
  {"width": 324, "height": 324, "title": {"text": "(d) Basic Trajectories"},
   "layer": [
    {"data": {"name": "trajD"}, "mark": {"type": "line", "color": "#0000ff", "strokeWidth": 1.8, "strokeDash": [7, 4]},
     "encoding": {"x": {"field": "x", "type": "quantitative", "scale": {"domain": [0, 1]}, "axis": {"orient": "bottom", "values": [0, 0.2, 0.4, 0.6, 0.8, 1], "format": "~g", "title": null}},
                  "y": {"field": "y", "type": "quantitative", "scale": {"domain": [0, 1]}, "axis": {"orient": "left", "values": [0, 0.2, 0.4, 0.6, 0.8, 1], "format": "~g", "title": null}},
                  "detail": {"field": "a"}, "order": {"field": "o"}}},
    {"data": {"name": "ptsF"}, "mark": {"type": "point", "shape": "circle", "filled": false, "color": "#0000ff", "size": 110, "strokeWidth": 2, "opacity": 1},
     "encoding": {"x": {"field": "x", "type": "quantitative", "scale": {"domain": [0, 1]}, "axis": {"orient": "top", "values": [0, 0.2, 0.4, 0.6, 0.8, 1], "labels": false, "title": null}},
                  "y": {"field": "y", "type": "quantitative", "scale": {"domain": [0, 1]}, "axis": {"orient": "right", "values": [0, 0.2, 0.4, 0.6, 0.8, 1], "labels": false, "title": null}}}},
    {"data": {"name": "targets"}, "mark": {"type": "point", "shape": "M-1,-1L1,1M1,-1L-1,1", "filled": false, "color": "#ff0000", "size": 49, "strokeWidth": 2, "opacity": 1},
     "encoding": {"x": {"field": "x", "type": "quantitative", "axis": null}, "y": {"field": "y", "type": "quantitative", "axis": null}}}
   ],
   "resolve": {"axis": {"x": "independent", "y": "independent"}}},
  {"width": 324, "height": 324, "title": {"text": "(e) Consensus Final Config."}, "view": {"stroke": "#0000ff", "strokeWidth": 2},
   "layer": [
    {"data": {"name": "vorE"}, "mark": {"type": "rule", "color": "#0000ff", "strokeWidth": 2},
     "encoding": {"x": {"field": "x1", "type": "quantitative", "scale": {"domain": [0, 1]}, "axis": {"orient": "bottom", "values": [0, 0.2, 0.4, 0.6, 0.8, 1], "format": "~g", "title": null}},
                  "y": {"field": "y1", "type": "quantitative", "scale": {"domain": [0, 1]}, "axis": {"orient": "left", "values": [0, 0.2, 0.4, 0.6, 0.8, 1], "format": "~g", "title": null}},
                  "x2": {"field": "x2"}, "y2": {"field": "y2"}}},
    {"data": {"name": "ptsE"}, "mark": {"type": "point", "shape": "circle", "filled": false, "color": "#0000ff", "size": 110, "strokeWidth": 2, "opacity": 1},
     "encoding": {"x": {"field": "x", "type": "quantitative", "scale": {"domain": [0, 1]}, "axis": {"orient": "top", "values": [0, 0.2, 0.4, 0.6, 0.8, 1], "labels": false, "title": null}},
                  "y": {"field": "y", "type": "quantitative", "scale": {"domain": [0, 1]}, "axis": {"orient": "right", "values": [0, 0.2, 0.4, 0.6, 0.8, 1], "labels": false, "title": null}}}},
    {"data": {"name": "targets"}, "mark": {"type": "point", "shape": "M-1,-1L1,1M1,-1L-1,1", "filled": false, "color": "#ff0000", "size": 49, "strokeWidth": 2, "opacity": 1},
     "encoding": {"x": {"field": "x", "type": "quantitative", "axis": null}, "y": {"field": "y", "type": "quantitative", "axis": null}}}
   ],
   "resolve": {"axis": {"x": "independent", "y": "independent"}}},
  {"width": 324, "height": 324, "title": {"text": "(f) Basic Final Config."}, "view": {"stroke": "#0000ff", "strokeWidth": 2},
   "layer": [
    {"data": {"name": "vorF"}, "mark": {"type": "rule", "color": "#0000ff", "strokeWidth": 2},
     "encoding": {"x": {"field": "x1", "type": "quantitative", "scale": {"domain": [0, 1]}, "axis": {"orient": "bottom", "values": [0, 0.2, 0.4, 0.6, 0.8, 1], "format": "~g", "title": null}},
                  "y": {"field": "y1", "type": "quantitative", "scale": {"domain": [0, 1]}, "axis": {"orient": "left", "values": [0, 0.2, 0.4, 0.6, 0.8, 1], "format": "~g", "title": null}},
                  "x2": {"field": "x2"}, "y2": {"field": "y2"}}},
    {"data": {"name": "ptsF"}, "mark": {"type": "point", "shape": "circle", "filled": false, "color": "#0000ff", "size": 110, "strokeWidth": 2, "opacity": 1},
     "encoding": {"x": {"field": "x", "type": "quantitative", "scale": {"domain": [0, 1]}, "axis": {"orient": "top", "values": [0, 0.2, 0.4, 0.6, 0.8, 1], "labels": false, "title": null}},
                  "y": {"field": "y", "type": "quantitative", "scale": {"domain": [0, 1]}, "axis": {"orient": "right", "values": [0, 0.2, 0.4, 0.6, 0.8, 1], "labels": false, "title": null}}}},
    {"data": {"name": "targets"}, "mark": {"type": "point", "shape": "M-1,-1L1,1M1,-1L-1,1", "filled": false, "color": "#ff0000", "size": 49, "strokeWidth": 2, "opacity": 1},
     "encoding": {"x": {"field": "x", "type": "quantitative", "axis": null}, "y": {"field": "y", "type": "quantitative", "axis": null}}}
   ],
   "resolve": {"axis": {"x": "independent", "y": "independent"}}}
]
}
